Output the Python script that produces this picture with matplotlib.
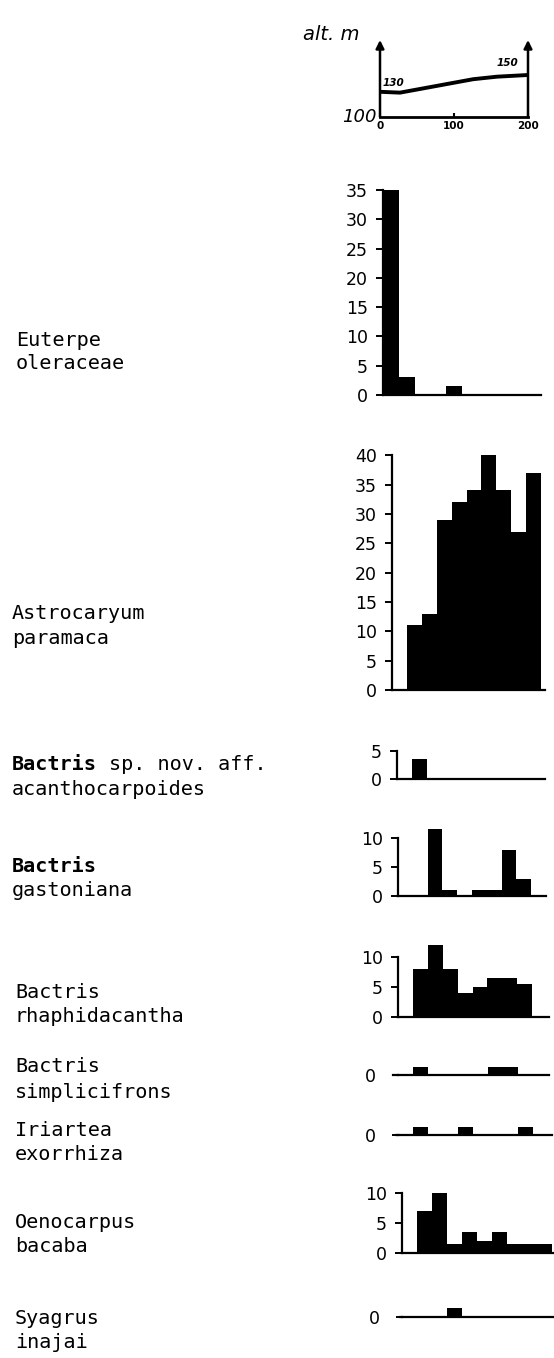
import matplotlib
matplotlib.use("Agg")
import matplotlib.pyplot as plt
import numpy as np

# ---------------- data ----------------
dist_bins = np.arange(10) * 20 + 10          # 10 bins of 20 m along 0-200 m transect

profile_x = [0, 27, 58, 95, 126, 158, 200]
profile_alt = [130, 129, 134, 140, 145, 148, 150]

euterpe = [35, 3, 0, 0, 1.5, 0, 0, 0, 0, 0]
astrocaryum = [0, 11, 13, 29, 32, 34, 40, 34, 27, 37]
acanthocarpoides = [0, 3.5, 0, 0, 0, 0, 0, 0, 0, 0]
gastoniana = [0, 0, 11.5, 1, 0, 1, 1, 8, 3, 0]
rhaphidacantha = [0, 8, 12, 8, 4, 5, 6.5, 6.5, 5.5, 0]
simplicifrons = [0, 1.3, 0, 0, 0, 0, 1.3, 1.3, 0, 0]
iriartea = [0, 1.3, 0, 0, 1.3, 0, 0, 0, 1.3, 0]
oenocarpus = [0, 7, 10, 1.5, 3.5, 2, 3.5, 1.5, 1.5, 1.5]
syagrus = [0, 0, 0, 1.5, 0, 0, 0, 0, 0, 0]

ticks_euterpe = [0, 5, 10, 15, 20, 25, 30, 35]
ticks_astro = [0, 5, 10, 15, 20, 25, 30, 35, 40]

# ---------------- layout ----------------
W, H = 554, 1358
fig = plt.figure(figsize=(W / 100, H / 100), dpi=100)
fig.patch.set_facecolor("white")

def add_ax(left, base, width, height):
    return fig.add_axes([left / W, 1 - base / H, width / W, height / H])

NUMFONT = dict(family="DejaVu Sans", size=12.5)

# ---- altitude profile ----
PXM = 0.84
pax = add_ax(380, 117, 148, 77)
ytop = 100 + 77 / PXM
pax.set_xlim(0, 200)
pax.set_ylim(100, ytop)
pax.plot(profile_x, profile_alt, color="black", lw=2.8, solid_capstyle="round")
for s in ["top", "left", "right"]:
    pax.spines[s].set_visible(False)
pax.spines["bottom"].set_linewidth(2)
for xx in (0, 200):
    pax.annotate("", xy=(xx, ytop), xytext=(xx, 100), annotation_clip=False,
                 arrowprops=dict(arrowstyle="-|>", lw=1.8, color="black", mutation_scale=12,
                                 shrinkA=0, shrinkB=0))
pax.set_xticks([0, 100, 200])
pax.set_xticklabels(["0", "100", "200"], fontsize=7.5, fontweight="bold", family="DejaVu Sans")
pax.tick_params(axis="x", direction="in", length=3, width=1.5, pad=3)
pax.set_yticks([])
pax.text(-4, 100, "100", ha="right", va="center", fontsize=13, style="italic", family="DejaVu Sans")
pax.text(-66, 100 + (117 - 35) / PXM, "alt. m", ha="center", va="center", fontsize=14,
         style="italic", family="DejaVu Sans", clip_on=False)
pax.text(18, 141, "130", ha="center", va="center", fontsize=7.5, fontweight="bold",
         style="italic")
pax.text(172, 164, "150", ha="center", va="center", fontsize=7.5, fontweight="bold",
         style="italic")

# ---- bar panels ----
def bar_panel(values, x0, binw, base, scale, top, ticks, end, start=None, spine=True):
    width = 10 * binw
    total_w = end - x0
    ymax = max(top if top else 3, max(values))
    height = ymax * scale
    ax = add_ax(x0, base, total_w, height)
    ax.set_xlim(0, 200 * total_w / width)
    ax.set_ylim(0, ymax)
    ax.bar(dist_bins, values, width=20, color="black", edgecolor="none", align="center")
    for s in ["top", "right"]:
        ax.spines[s].set_visible(False)
    ax.spines["bottom"].set_linewidth(1.6)
    ax.set_xticks([])
    if spine:
        ax.spines["left"].set_linewidth(1.6)
        ax.spines["left"].set_bounds(0, top)
        ax.set_yticks(ticks)
        ax.set_yticklabels([str(t) for t in ticks], **NUMFONT)
        ax.tick_params(axis="y", direction="out", length=5, width=1.4, pad=6)
    else:
        ax.spines["left"].set_visible(False)
        ax.set_yticks([0])
        ax.set_yticklabels(["0"], **NUMFONT)
        ax.tick_params(axis="y", direction="out", length=4, width=1.4, pad=12)
    if start is not None:
        ax.plot([-(x0 - start) / binw * 20, 0], [0, 0], color="black", lw=1.6, clip_on=False)
    return ax

bar_panel(euterpe, 383, 15.8, 395, 5.86, 35, ticks_euterpe, 541)
bar_panel(astrocaryum, 392, 14.9, 690, 5.87, 40, ticks_astro, 545)
bar_panel(acanthocarpoides, 397, 14.8, 779, 5.6, 5, [0, 5], 545)
bar_panel(gastoniana, 398, 14.8, 896, 5.8, 10, [0, 5, 10], 546)
bar_panel(rhaphidacantha, 398, 14.9, 1017, 6.0, 10, [0, 5, 10], 549)
bar_panel(simplicifrons, 398, 15.0, 1075, 6.0, None, [0], 549, start=393, spine=False)
bar_panel(iriartea, 398, 15.0, 1135, 6.0, None, [0], 552, start=396, spine=False)
bar_panel(oenocarpus, 402, 15.0, 1253, 6.0, 10, [0, 5, 10], 554)
bar_panel(syagrus, 402, 15.0, 1317, 6.0, None, [0], 554, start=400, spine=False)

# ---- species labels ----
FS = 14.5
LBL = dict(family="DejaVu Sans Mono", size=FS, va="center", ha="left")
ADV = 0.602 * FS * 100 / 72   # monospace advance in pixels

def label(x, y, text, bold=False):
    fig.text(x / W, 1 - y / H, text, fontweight="bold" if bold else "normal", **LBL)

label(16, 340, "Euterpe")
label(16, 364, "oleraceae")
label(12, 614, "Astrocaryum")
label(12, 638, "paramaca")
label(12, 765, "Bactris", bold=True)
label(12 + 8 * ADV, 765, "sp. nov. aff.")
label(12, 789, "acanthocarpoides")
label(12, 866, "Bactris", bold=True)
label(12, 890, "gastoniana")
label(15, 992, "Bactris")
label(15, 1016, "rhaphidacantha")
label(15, 1067, "Bactris")
label(15, 1092, "simplicifrons")
label(15, 1130, "Iriartea")
label(15, 1154, "exorrhiza")
label(15, 1222, "Oenocarpus")
label(15, 1246, "bacaba")
label(15, 1318, "Syagrus")
label(15, 1342, "inajai")

fig.savefig("out.png", dpi=100, facecolor="white")
